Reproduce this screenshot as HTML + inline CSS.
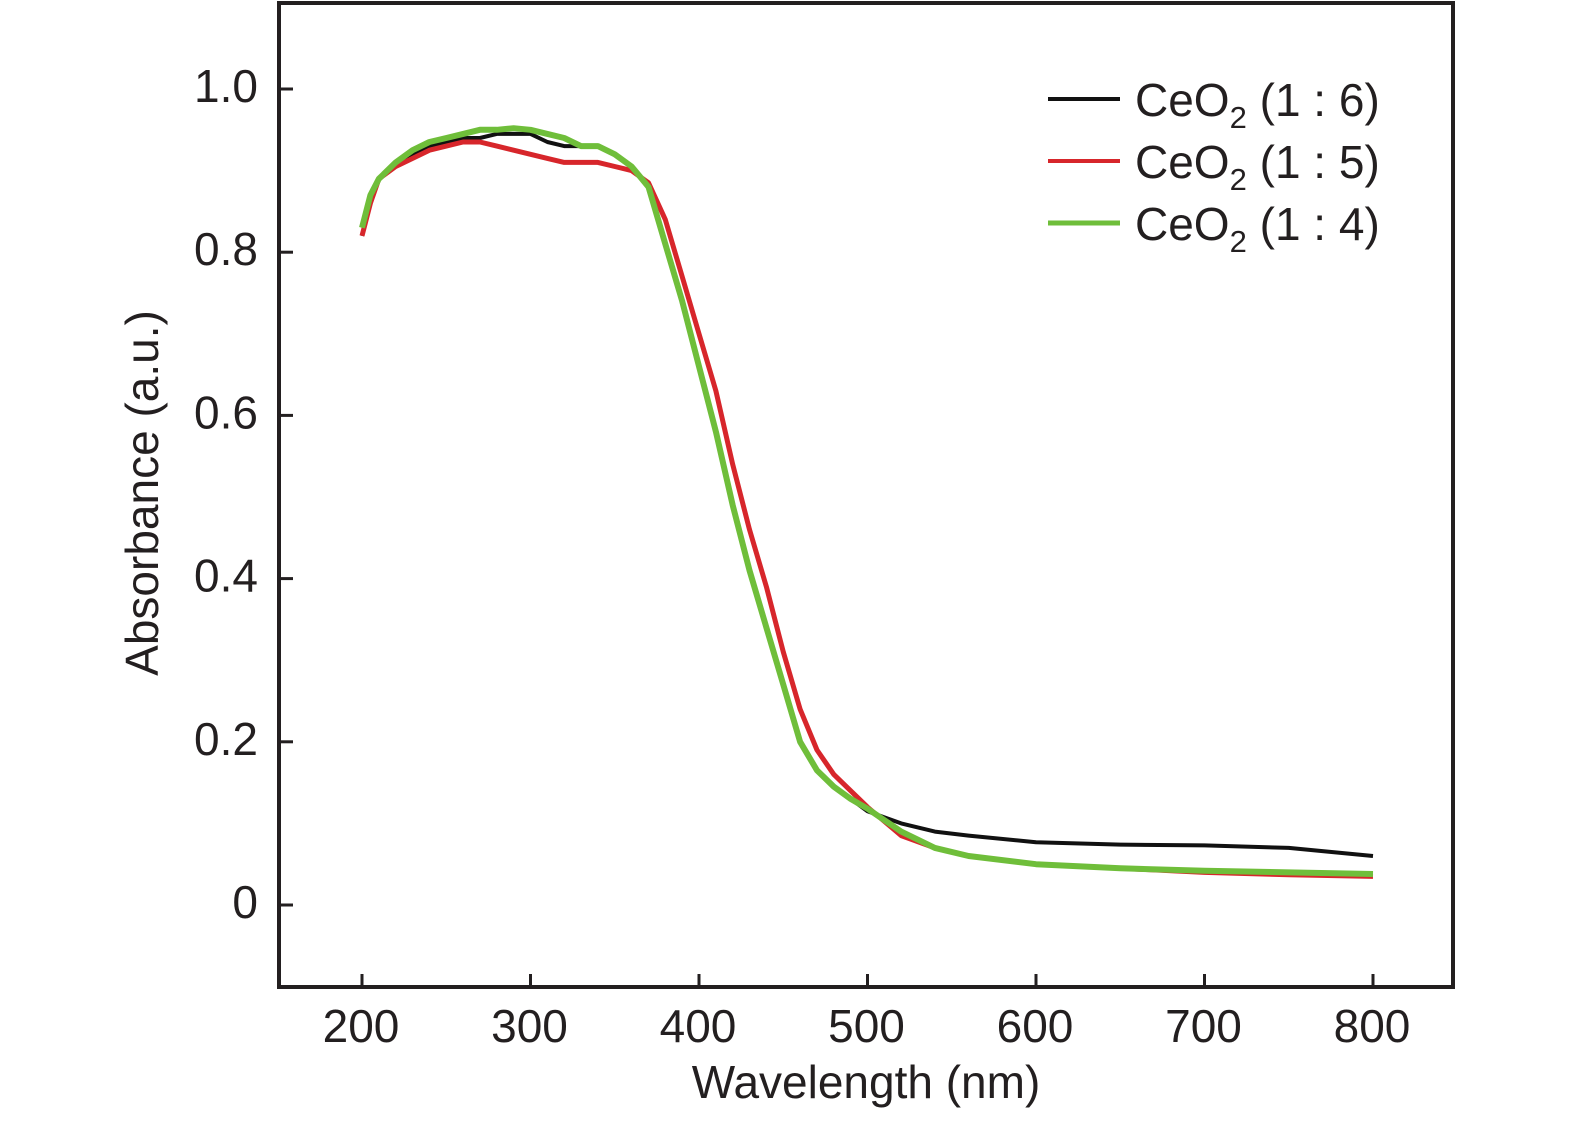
<!DOCTYPE html>
<html><head><meta charset="utf-8"><style>
html,body{margin:0;padding:0;background:#fff;}
svg{display:block;font-family:"Liberation Sans",sans-serif;}
</style></head><body>
<svg id="chart" width="1575" height="1121" viewBox="0 0 1575 1121">
<rect x="279" y="3" width="1174" height="984" fill="none" stroke="#231f20" stroke-width="4"/>
<g id="ticks"></g>
<g id="series"></g>
<text x="866" y="1098" font-size="46" text-anchor="middle" fill="#231f20">Wavelength (nm)</text>
<text transform="translate(158,493) rotate(-90)" font-size="46" text-anchor="middle" fill="#231f20">Absorbance (a.u.)</text>
<g>
<line x1="1048" y1="99" x2="1120" y2="99" stroke="#111" stroke-width="4"/>
<text x="1135" y="116" font-size="46" fill="#231f20">CeO<tspan font-size="31" dy="12">2</tspan><tspan dy="-12"> (1 : 6)</tspan></text>
<line x1="1048" y1="161" x2="1120" y2="161" stroke="#d7262b" stroke-width="4"/>
<text x="1135" y="178" font-size="46" fill="#231f20">CeO<tspan font-size="31" dy="12">2</tspan><tspan dy="-12"> (1 : 5)</tspan></text>
<line x1="1048" y1="223" x2="1120" y2="223" stroke="#6fbe3a" stroke-width="5"/>
<text x="1135" y="240" font-size="46" fill="#231f20">CeO<tspan font-size="31" dy="12">2</tspan><tspan dy="-12"> (1 : 4)</tspan></text>
</g>
</svg>
<script>
const wavelengths=[200,205,210,220,230,240,250,260,270,280,290,300,310,320,330,340,350,360,370,380,390,400,410,420,430,440,450,460,470,480,490,500,520,540,560,600,650,700,750,800];
const black16=[.82,.86,.89,.91,.92,.93,.935,.94,.94,.945,.945,.945,.935,.93,.93,.93,.92,.905,.88,.81,.74,.66,.58,.49,.41,.34,.27,.2,.165,.145,.13,.115,.1,.09,.085,.077,.074,.073,.07,.06];
const red15=[.82,.86,.89,.905,.915,.925,.93,.935,.935,.93,.925,.92,.915,.91,.91,.91,.905,.9,.885,.84,.77,.7,.63,.54,.46,.39,.31,.24,.19,.16,.14,.12,.085,.07,.06,.05,.045,.04,.037,.035];
const green14=[.83,.87,.89,.91,.925,.935,.94,.945,.95,.95,.952,.95,.945,.94,.93,.93,.92,.905,.88,.81,.74,.66,.58,.49,.41,.34,.27,.2,.165,.145,.13,.118,.09,.07,.06,.05,.045,.042,.04,.038];
const xTicks=[200,300,400,500,600,700,800];
const yTicks=[0,0.2,0.4,0.6,0.8,1.0];
const yTickLabels=["0","0.2","0.4","0.6","0.8","1.0"];
const NS="http://www.w3.org/2000/svg";
function xs(w){return 362+(w-200)*1.685;}
function ys(v){return 905-v*816;}
const tg=document.getElementById('ticks');
xTicks.forEach(t=>{
  const l=document.createElementNS(NS,'line');
  l.setAttribute('x1',xs(t));l.setAttribute('x2',xs(t));l.setAttribute('y1',987);l.setAttribute('y2',974);
  l.setAttribute('stroke','#231f20');l.setAttribute('stroke-width',3);
  
  
  tg.appendChild(l);
  const tx=document.createElementNS(NS,'text');
  tx.setAttribute('x',xs(t)-1);tx.setAttribute('y',1042);tx.setAttribute('font-size',46);
  tx.setAttribute('text-anchor','middle');tx.setAttribute('fill','#231f20');tx.textContent=t;
  
  
  tg.appendChild(tx);
});
yTicks.forEach((t,i)=>{
  const l=document.createElementNS(NS,'line');
  l.setAttribute('x1',279);l.setAttribute('x2',293);l.setAttribute('y1',ys(t));l.setAttribute('y2',ys(t));
  l.setAttribute('stroke','#231f20');l.setAttribute('stroke-width',3);
  
  
  tg.appendChild(l);
  const tx=document.createElementNS(NS,'text');
  tx.setAttribute('x',258);tx.setAttribute('y',ys(t)+13);tx.setAttribute('font-size',46);
  tx.setAttribute('text-anchor','end');tx.setAttribute('fill','#231f20');tx.textContent=yTickLabels[i];
  
  
  tg.appendChild(tx);
});
const sg=document.getElementById('series');
[[black16,'#111','series-ceo2-1-6',4],[red15,'#d7262b','series-ceo2-1-5',5],[green14,'#6fbe3a','series-ceo2-1-4',6]].forEach(s=>{
  const p=document.createElementNS(NS,'polyline');
  p.setAttribute('points',wavelengths.map((w,i)=>xs(w).toFixed(1)+','+ys(s[0][i]).toFixed(1)).join(' '));
  p.setAttribute('fill','none');p.setAttribute('stroke',s[1]);p.setAttribute('stroke-width',s[3]);
  p.setAttribute('stroke-linejoin','round');
  
  
  sg.appendChild(p);
});
</script>
</body></html>
